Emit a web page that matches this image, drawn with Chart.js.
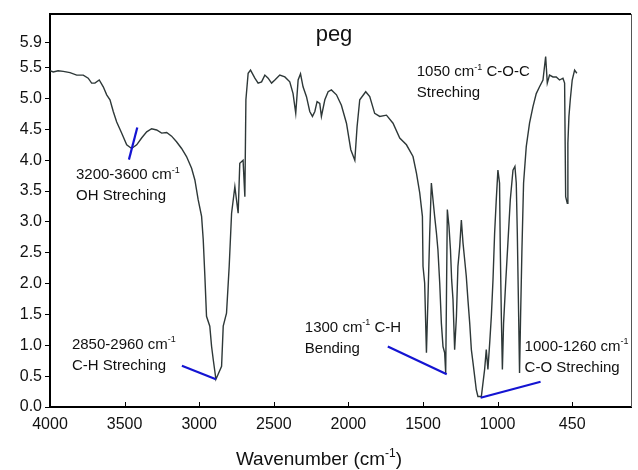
<!DOCTYPE html>
<html>
<head>
<meta charset="utf-8">
<script src="https://cdn.jsdelivr.net/npm/chart.js@4.4.0/dist/chart.umd.min.js"></script>
<style>
  html, body { margin: 0; padding: 0; background: #fff; }
  #wrap { width: 638px; height: 470px; }
</style>
</head>
<body>
<div id="wrap"><canvas id="spectrum" width="638" height="470"></canvas></div>
<script>
// spectrum (wavenumber in cm-1, value on the y axis)
const wavenumber = [
  4000, 3978, 3946, 3911, 3866, 3821, 3777, 3744, 3721, 3699, 3670, 3643, 3620, 3598, 3576, 3553,
  3520, 3486, 3453, 3419, 3386, 3352, 3319, 3285, 3252, 3218, 3185, 3152, 3118, 3085, 3051, 3029,
  3007, 2984, 2973, 2962, 2951, 2929, 2917, 2906, 2888, 2873, 2850, 2839, 2817, 2799, 2783, 2761,
  2739, 2728, 2706, 2694, 2687, 2672, 2656, 2627, 2605, 2582, 2560, 2538, 2515, 2493, 2460, 2426,
  2393, 2371, 2353, 2337, 2321, 2304, 2281, 2259, 2241, 2225, 2210, 2192, 2181, 2158, 2136, 2114,
  2080, 2047, 2013, 1984, 1957, 1942, 1924, 1884, 1857, 1824, 1790, 1745, 1701, 1656, 1611, 1567,
  1544, 1522, 1504, 1500, 1489, 1477, 1467, 1455, 1444, 1433, 1422, 1410, 1400, 1388, 1377, 1366,
  1355, 1348, 1343, 1337, 1326, 1316, 1308, 1299, 1288, 1276, 1266, 1254, 1243, 1232, 1221, 1210,
  1199, 1187, 1176, 1165, 1154, 1143, 1132, 1109, 1098, 1087, 1076, 1065, 1053, 1042, 1031, 1020,
  1009, 998, 987, 982, 975, 968, 960, 946, 931, 915, 897, 884, 875, 868, 859, 853,
  846, 837, 826, 808, 786, 763, 741, 719, 696, 678, 667, 652, 629, 607, 585, 562,
  551, 544, 533, 529, 522, 513, 500, 484, 469
];
const signal = [
  5.45, 5.43, 5.45, 5.44, 5.42, 5.38, 5.38, 5.33, 5.25, 5.25, 5.30, 5.19, 5.06, 4.98, 4.79, 4.62,
  4.44, 4.25, 4.19, 4.25, 4.36, 4.46, 4.51, 4.49, 4.44, 4.45, 4.39, 4.30, 4.19, 4.06, 3.87, 3.68,
  3.36, 3.09, 2.71, 2.12, 1.47, 1.31, 0.98, 0.77, 0.45, 0.53, 0.66, 1.31, 1.52, 2.28, 3.14, 3.57,
  3.14, 3.95, 4.00, 3.41, 4.98, 5.41, 5.46, 5.33, 5.25, 5.27, 5.38, 5.33, 5.25, 5.30, 5.38, 5.35,
  5.27, 5.08, 4.76, 5.30, 5.40, 5.19, 5.03, 4.79, 4.71, 4.79, 4.95, 4.92, 4.71, 4.98, 5.11, 5.14,
  5.06, 4.89, 4.60, 4.17, 4.00, 4.54, 4.98, 5.11, 5.03, 4.76, 4.71, 4.73, 4.60, 4.36, 4.25, 4.06,
  3.79, 3.47, 3.09, 2.28, 2.01, 0.88, 1.74, 2.82, 3.63, 3.36, 3.09, 2.82, 2.55, 2.01, 1.36, 0.98,
  0.88, 0.55, 1.74, 3.20, 2.93, 2.55, 2.06, 1.74, 0.93, 1.47, 2.28, 2.60, 3.03, 2.66, 2.39, 2.12,
  1.74, 1.36, 0.93, 0.72, 0.50, 0.28, 0.17, 0.17, 0.39, 0.61, 0.93, 0.61, 1.04, 1.47, 2.06, 2.82,
  3.36, 3.84, 3.63, 2.55, 1.47, 0.61, 1.36, 2.01, 2.66, 3.36, 3.84, 3.90, 3.63, 2.82, 1.47, 0.55,
  1.47, 2.55, 3.63, 4.22, 4.60, 4.87, 5.08, 5.19, 5.30, 5.68, 5.25, 5.38, 5.35, 5.35, 5.30, 5.33,
  5.25, 3.41, 3.30, 4.28, 4.71, 4.98, 5.30, 5.46, 5.41
];

const xTickValues = [4000, 3500, 3000, 2500, 2000, 1500, 1000, 500];
const xTickLabels = ['4000', '3500', '3000', '2500', '2000', '1500', '1000', '450'];
const yTickValues = [0, 0.5, 1, 1.5, 2, 2.5, 3, 3.5, 4, 4.5, 5, 5.5, 5.9];

// band labels ("^-1" is written as superscript)
const noteText = [
  '3200-3600 cm^-1', 'OH Streching',
  '2850-2960 cm^-1', 'C-H Streching',
  '1300 cm^-1 C-H', 'Bending',
  '1000-1260 cm^-1', 'C-O Streching',
  '1050 cm^-1 C-O-C', 'Streching'
];
const noteWn = [3826, 3826, 3853, 3853, 2292, 2292, 819, 819, 1542, 1542];
const noteVal = [3.76, 3.42, 1.01, 0.67, 1.29, 0.95, 0.98, 0.64, 5.43, 5.09];

// blue pointer lines
const pointerStartWn = [3471, 3116, 1736, 1114];
const pointerStartVal = [4.01, 0.67, 0.98, 0.15];
const pointerEndWn = [3415, 2888, 1341, 712];
const pointerEndVal = [4.53, 0.45, 0.53, 0.41];

const FONT = '"Liberation Sans", Arial, Helvetica, sans-serif';

function drawRich(ctx, str, x, y, size, align) {
  const parts = str.split(/\^(-?\d+)/);
  const supSize = Math.round(size * 0.62);
  let total = 0;
  parts.forEach((p, i) => {
    ctx.font = (i % 2 ? supSize : size) + 'px ' + FONT;
    total += ctx.measureText(p).width;
  });
  let cx = align === 'center' ? x - total / 2 : x;
  ctx.textAlign = 'left';
  parts.forEach((p, i) => {
    const sup = i % 2 === 1;
    ctx.font = (sup ? supSize : size) + 'px ' + FONT;
    ctx.fillText(p, cx, sup ? y - size * 0.33 : y);
    cx += ctx.measureText(p).width;
  });
}

const decorations = {
  id: 'decorations',
  afterDatasetsDraw(chart) {
    const ctx = chart.ctx;
    const xs = chart.scales.x;
    const ys = chart.scales.y;
    const area = chart.chartArea;
    ctx.save();

    // frame: top and right edges
    ctx.strokeStyle = '#000';
    ctx.lineWidth = 2;
    ctx.beginPath();
    ctx.moveTo(area.left, area.top);
    ctx.lineTo(area.right, area.top);
    ctx.stroke();
    ctx.strokeStyle = '#555';
    ctx.lineWidth = 1;
    ctx.beginPath();
    ctx.moveTo(area.right + 0.5, area.top);
    ctx.lineTo(area.right + 0.5, area.bottom);
    ctx.stroke();

    // x tick marks point inward
    ctx.strokeStyle = '#000';
    ctx.lineWidth = 1;
    xTickValues.forEach(v => {
      const px = Math.round(xs.getPixelForValue(v)) + 0.5;
      ctx.beginPath();
      ctx.moveTo(px, area.bottom);
      ctx.lineTo(px, area.bottom - 5);
      ctx.stroke();
    });

    // pointer lines
    ctx.strokeStyle = '#1414d2';
    ctx.lineWidth = 2.2;
    pointerStartWn.forEach((w, i) => {
      ctx.beginPath();
      ctx.moveTo(xs.getPixelForValue(w), ys.getPixelForValue(pointerStartVal[i]));
      ctx.lineTo(xs.getPixelForValue(pointerEndWn[i]), ys.getPixelForValue(pointerEndVal[i]));
      ctx.stroke();
    });

    // band labels
    ctx.fillStyle = '#111';
    ctx.textBaseline = 'middle';
    noteText.forEach((t, i) => {
      drawRich(ctx, t, xs.getPixelForValue(noteWn[i]), ys.getPixelForValue(noteVal[i]), 15, 'left');
    });

    // title inside the plot
    ctx.textBaseline = 'alphabetic';
    drawRich(ctx, 'peg', 334, 41, 22, 'center');

    // x axis title
    ctx.textBaseline = 'middle';
    drawRich(ctx, 'Wavenumber (cm^-1)', chart.width / 2, 460, 19, 'center');

    ctx.restore();
  }
};

new Chart(document.getElementById('spectrum').getContext('2d'), {
  type: 'line',
  data: {
    datasets: [{
      data: wavenumber.map((w, i) => ({ x: w, y: signal[i] })),
      borderColor: '#2e3838',
      borderWidth: 1.4,
      pointRadius: 0,
      tension: 0,
      fill: false
    }]
  },
  options: {
    responsive: false,
    animation: false,
    layout: { padding: { top: 14, right: 7, left: 0, bottom: 0 } },
    plugins: {
      legend: { display: false },
      tooltip: { enabled: false }
    },
    scales: {
      x: {
        type: 'linear',
        reverse: true,
        min: 106,
        max: 4000,
        afterBuildTicks: s => { s.ticks = xTickValues.map(v => ({ value: v })); },
        afterFit: s => { s.height = 63; },
        grid: { drawOnChartArea: false, drawTicks: false },
        border: { color: '#000', width: 2 },
        ticks: {
          color: '#111',
          font: { size: 16, family: FONT },
          padding: 8,
          maxRotation: 0,
          autoSkip: false,
          callback: (v, i) => xTickLabels[i]
        }
      },
      y: {
        min: 0,
        max: 6.37,
        afterBuildTicks: s => { s.ticks = yTickValues.map(v => ({ value: v })); },
        afterFit: s => { s.width = 50; },
        grid: { drawOnChartArea: false, drawTicks: true, tickLength: 5, color: '#000' },
        border: { color: '#000', width: 2 },
        ticks: {
          color: '#111',
          font: { size: 16, family: FONT },
          padding: 3,
          autoSkip: false,
          callback: v => Number(v).toFixed(1)
        }
      }
    }
  },
  plugins: [decorations]
});
</script>
</body>
</html>
